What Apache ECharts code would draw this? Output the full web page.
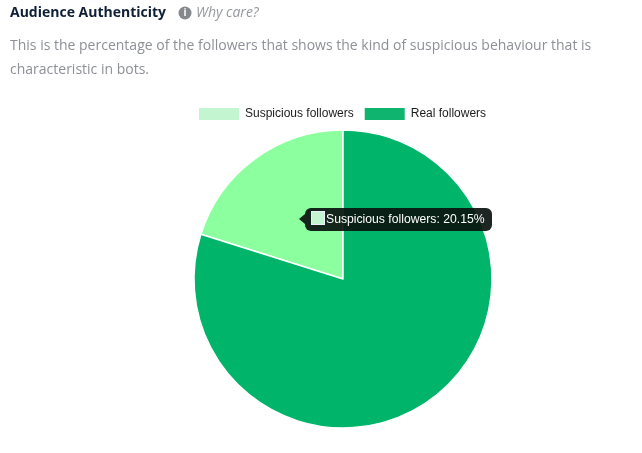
<!DOCTYPE html>
<html>
<head>
<meta charset="utf-8">
<style>html,body{margin:0;padding:0;background:#fff}#c{width:642px;height:453px}</style>
<script src="https://cdn.jsdelivr.net/npm/echarts@6/dist/echarts.min.js"></script>
</head>
<body>
<div id="c"></div>
<script>
const categories = ["Suspicious followers", "Real followers"];
const values = [20.15, 79.85];
const sliceColors = ["#8cff9f", "#00b56a"];
const legendColors = ["#c3f6d0", "#0fb56f"];
const heading = "Audience Authenticity";
const whyCare = "Why care?";
const lines = ["This is the percentage of the followers that shows the kind of suspicious behaviour that is", "characteristic in bots."];

const chart = echarts.init(document.getElementById('c'), null, {renderer: 'canvas'});
const bodyFont = '"Open Sans", sans-serif';
chart.setOption({
  animation: false,
  graphic: [
    {type:'text', left:10, top:6, style:{text:heading, font:'bold 14px ' + bodyFont, fill:'#0e1f35'}},
    {type:'circle', shape:{cx:185, cy:13, r:6.5}, style:{fill:'#85888d'}},
    {type:'text', x:185, y:13, style:{text:'i', font:'bold 10px ' + bodyFont, fill:'#fff', align:'center', verticalAlign:'middle'}},
    {type:'text', left:196, top:6, style:{text:whyCare, font:'italic 14px ' + bodyFont, fill:'#96999e'}},
    {type:'text', left:10, top:39, style:{text:lines[0], font:'14px ' + bodyFont, fill:'#8d9096'}},
    {type:'text', left:10, top:63, style:{text:lines[1], font:'14px ' + bodyFont, fill:'#8d9096'}}
  ],
  legend: {
    top: 106, left: 197, padding: 0, itemWidth: 42, itemHeight: 14, itemGap: 9,
    icon: 'rect',
    textStyle: {fontFamily: '"Liberation Sans", Arial, sans-serif', fontSize: 12, color: '#1c1c1c', padding: [0,0,0,0]},
    data: categories.map((n,i)=>({name:n, itemStyle:{color:legendColors[i]}}))
  },
  tooltip: {
    trigger: 'item',
    alwaysShowContent: true,
    transitionDuration: 0,
    backgroundColor: 'rgba(0,0,0,0)',
    borderWidth: 0,
    padding: 0,
    extraCssText: 'box-shadow:none;',
    position: function(){ return [299, 208]; },
    formatter: function(p){
      return '<div style="position:relative;margin-left:6px;width:187px;height:23px;box-sizing:border-box;background:rgba(10,20,15,.92);border-radius:6px;color:#fff;font:12.2px/23px \'Liberation Sans\',Arial,sans-serif;padding-left:6px;white-space:nowrap;">'
        + '<span style="position:absolute;left:-6px;top:6px;width:0;height:0;border-top:5px solid transparent;border-bottom:5px solid transparent;border-right:6px solid rgba(10,20,15,.92);"></span>'
        + '<span style="display:inline-block;width:14px;height:14px;background:'+legendColors[p.dataIndex]+';border:1px solid #eef;box-sizing:border-box;vertical-align:-2px;margin-right:1px;"></span>'
        + p.name + ': ' + p.value.toFixed(2) + '%</div>';
    }
  },
  series: [{
    type: 'pie',
    center: [343, 279],
    radius: [0, 149],
    startAngle: 90,
    clockwise: false,
    label: {show:false},
    labelLine: {show:false},
    emphasis: {disabled:true},
    itemStyle: {borderColor:'#fff', borderWidth:1.5},
    data: categories.map((n,i)=>({name:n, value:values[i], itemStyle:{color:sliceColors[i]}}))
  }]
});
chart.dispatchAction({type:'showTip', seriesIndex:0, dataIndex:0});
</script>
</body>
</html>
